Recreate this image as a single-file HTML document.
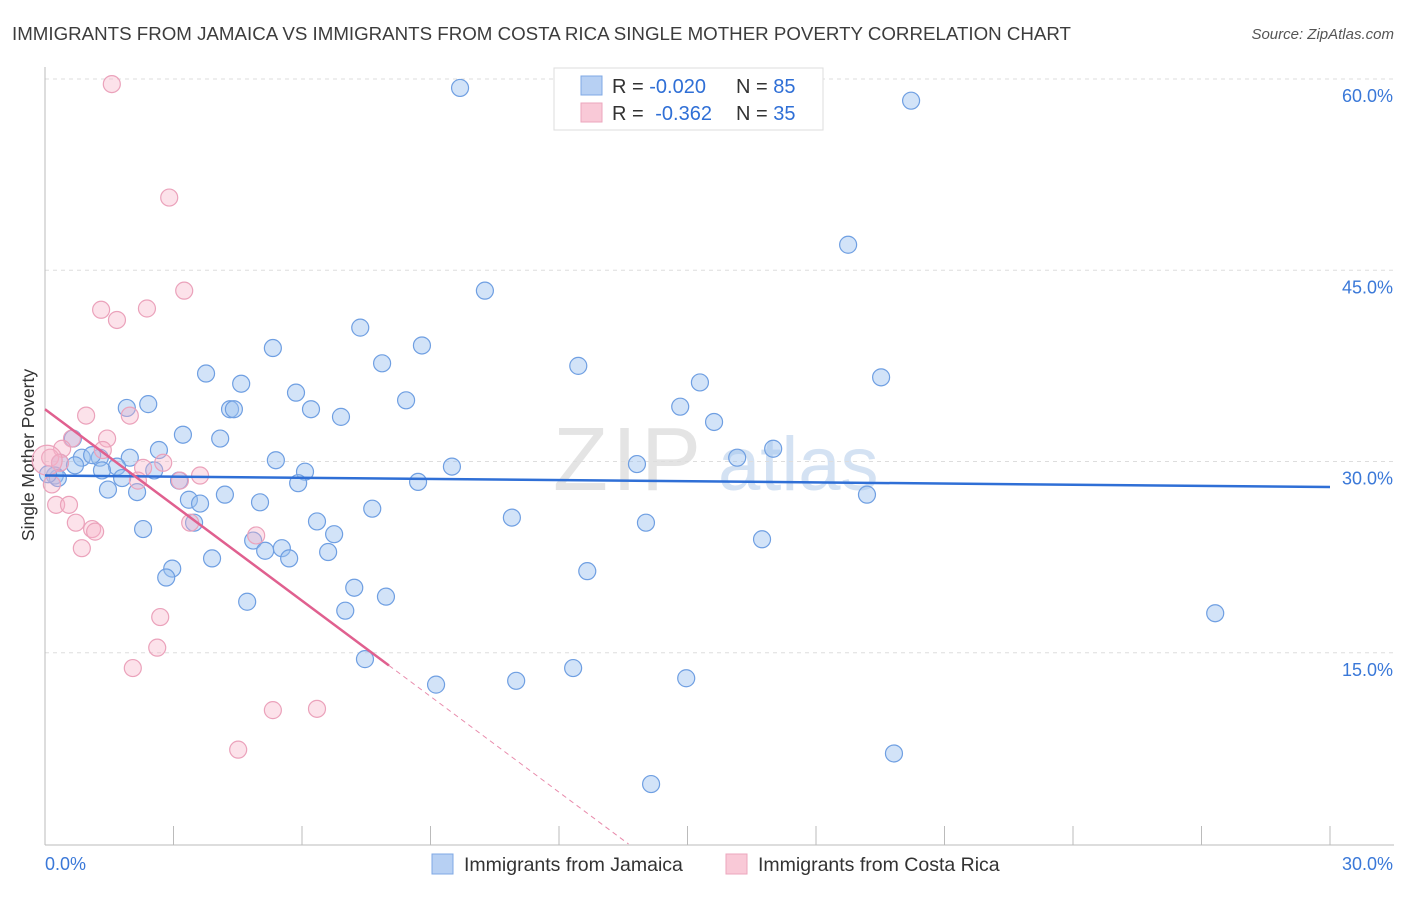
<!DOCTYPE html>
<html><head><meta charset="utf-8"><style>
body{margin:0;background:#fff;font-family:"Liberation Sans",sans-serif;}
svg text{font-family:"Liberation Sans",sans-serif;}
</style></head><body>
<svg id="chart" width="1406" height="892">
<text x="12" y="40" font-size="18" fill="#3c3c3c" textLength="1059" lengthAdjust="spacingAndGlyphs">IMMIGRANTS FROM JAMAICA VS IMMIGRANTS FROM COSTA RICA SINGLE MOTHER POVERTY CORRELATION CHART</text>
<text x="1394" y="39" font-size="15" fill="#555" font-style="italic" text-anchor="end">Source: ZipAtlas.com</text>
<text transform="translate(34,455) rotate(-90)" font-size="17.5" fill="#333" text-anchor="middle">Single Mother Poverty</text>
<g><text x="553" y="490" font-size="90" fill="#e4e4e4" font-family="Liberation Serif" letter-spacing="4">ZIP</text><text x="718" y="490" font-size="76" fill="#d4e2f3">atlas</text></g>
<g id="grid"></g><g id="axes"></g><g id="marks"></g>
<g>
<rect x="554" y="68" width="269" height="62" fill="#fff" stroke="#ddd"/>
<rect x="581" y="76" width="21" height="19" fill="#b7d0f3" stroke="#7fa8e4"/>
<rect x="581" y="103" width="21" height="19" fill="#f9c9d7" stroke="#eca6bd"/>
<text x="612" y="93" font-size="20" fill="#333">R = <tspan fill="#2f6fd6">-0.020</tspan><tspan x="736">N = </tspan><tspan fill="#2f6fd6">85</tspan></text>
<text x="612" y="120" font-size="20" fill="#333">R = <tspan fill="#2f6fd6" dx="6">-0.362</tspan><tspan x="736">N = </tspan><tspan fill="#2f6fd6">35</tspan></text>
</g>
<g>
<rect x="432" y="854" width="21" height="20" fill="#b7d0f3" stroke="#7fa8e4"/>
<text x="464" y="871" font-size="19.5" fill="#333">Immigrants from Jamaica</text>
<rect x="726" y="854" width="21" height="20" fill="#f9c9d7" stroke="#eca6bd"/>
<text x="758" y="871" font-size="19.5" fill="#333">Immigrants from Costa Rica</text>
</g>
</svg>
<script>
const yTicks=[15,30,45,60];
const yTickLabels=["15.0%","30.0%","45.0%","60.0%"];
const xTicks=[0,3,6,9,12,15,18,21,24,27,30];
const xEndLabels=["0.0%","30.0%"];
const jamX=[9.69,20.22,18.75,10.27,7.36,5.32,8.80,7.87,12.45,3.76,15.29,19.52,4.58,5.86,8.43,2.41,1.91,4.32,4.41,6.21,6.91,14.83,15.62,3.22,4.09,17.0,2.66,1.98,1.28,0.86,1.10,0.35,0.70,5.39,9.50,13.82,16.16,6.07,1.68,1.33,2.55,3.13,5.91,8.71,0.23,0.30,1.47,2.15,4.20,3.36,3.62,5.02,7.64,19.19,10.90,6.35,3.48,14.03,2.29,6.75,4.86,16.74,5.14,5.53,5.70,6.61,3.90,12.66,2.97,2.83,7.22,7.96,4.72,7.01,27.32,7.47,12.33,11.0,14.97,9.13,19.82,14.15,0.65,0.07,1.80];
const jamY=[59.3,58.3,47.0,43.4,40.5,38.9,39.1,37.7,37.5,36.9,36.2,36.6,36.1,35.4,34.8,34.5,34.2,34.1,34.1,34.1,33.5,34.3,33.1,32.1,31.8,31.0,30.9,30.3,30.3,30.3,30.5,29.9,29.7,30.1,29.6,29.8,30.3,29.2,29.6,29.3,29.3,28.5,28.3,28.4,28.9,28.7,27.8,27.6,27.4,27.0,26.7,26.8,26.3,27.4,25.6,25.3,25.2,25.2,24.7,24.3,23.8,23.9,23.0,23.2,22.4,22.9,22.4,21.4,21.6,20.9,20.1,19.4,19.0,18.3,18.1,14.5,13.8,12.8,13.0,12.5,7.1,4.7,31.8,29.0,28.7];
const crX=[1.56,2.90,3.25,1.31,2.38,1.68,0.96,1.98,1.45,0.63,0.40,1.35,0.12,0.35,2.76,2.29,3.15,3.62,2.17,0.16,0.26,0.56,0.72,3.39,1.10,1.17,4.93,0.86,2.69,2.62,2.05,5.32,6.35,4.51,0.05];
const crY=[59.6,50.7,43.4,41.9,42.0,41.1,33.6,33.6,31.8,31.8,31.0,30.9,30.3,29.9,29.9,29.5,28.5,28.9,28.5,28.2,26.6,26.6,25.2,25.2,24.7,24.5,24.2,23.2,17.8,15.4,13.8,10.5,10.6,7.4,30.1];
const jamTrend=[28.9,28.0];
const crTrend=[34.1,-2.503];
const crSolidEnd=8.03;

const X0=45,X1=1330,YB=844,YT=79;
const sx=v=>X0+(v/30)*(X1-X0);
const sy=v=>YB-(v/60)*(YB-YT);
const NS='http://www.w3.org/2000/svg';
function mk(tag,attrs,parent){const e=document.createElementNS(NS,tag);for(const k in attrs)e.setAttribute(k,attrs[k]);parent.appendChild(e);return e;}
const grid=document.getElementById('grid'),axes=document.getElementById('axes'),marks=document.getElementById('marks');
yTicks.forEach((t,i)=>{
  const l=mk('line',{x1:X0,x2:1394,y1:sy(t),y2:sy(t),stroke:'#ddd','stroke-dasharray':'4,4'},grid);
  
  
  const tx=mk('text',{x:1393,y:sy(t)+23,'font-size':18,fill:'#3a78d8','text-anchor':'end'},axes);
  tx.textContent=yTickLabels[i];
  
  
});
const ya=mk('line',{x1:X0,x2:X0,y1:67,y2:YB,stroke:'#bbb'},axes);


const xa=mk('line',{x1:X0,x2:1394,y1:YB+1,y2:YB+1,stroke:'#bbb'},axes);


xTicks.forEach(t=>{
  const l=mk('line',{x1:sx(t),x2:sx(t),y1:YB-18,y2:YB+1,stroke:'#bbb'},axes);
  
  
});
[[0,'start',X0],[30,'end',1393]].forEach((a,i)=>{
  const tx=mk('text',{x:a[2],y:870,'font-size':18,fill:'#3a78d8','text-anchor':a[1]},axes);
  tx.textContent=xEndLabels[i];
  
  
});
jamX.forEach((x,i)=>{
  const c=mk('circle',{cx:sx(x),cy:sy(jamY[i]),r:8.5,fill:'rgba(155,192,240,0.45)',stroke:'#6f9fe2','stroke-width':1.2},marks);
  
  
});
crX.forEach((x,i)=>{
  const c=mk('circle',{cx:sx(x),cy:sy(crY[i]),r:i==crX.length-1?15:8.5,fill:'rgba(246,178,200,0.38)',stroke:'#eba2bb','stroke-width':1.2},marks);
  
  
});
const bt=mk('line',{x1:sx(0),y1:sy(jamTrend[0]),x2:sx(30),y2:sy(jamTrend[1]),stroke:'#2f6fd6','stroke-width':2.5},marks);


const zero=-crTrend[0]/crTrend[1];
const pd=mk('line',{x1:sx(crSolidEnd),y1:sy(crTrend[0]+crTrend[1]*crSolidEnd),x2:sx(zero),y2:sy(0),stroke:'#e88aab','stroke-width':1,'stroke-dasharray':'5,4'},marks);


const pt=mk('line',{x1:sx(0),y1:sy(crTrend[0]),x2:sx(crSolidEnd),y2:sy(crTrend[0]+crTrend[1]*crSolidEnd),stroke:'#e0608f','stroke-width':2.5},marks);


</script>
</body></html>
